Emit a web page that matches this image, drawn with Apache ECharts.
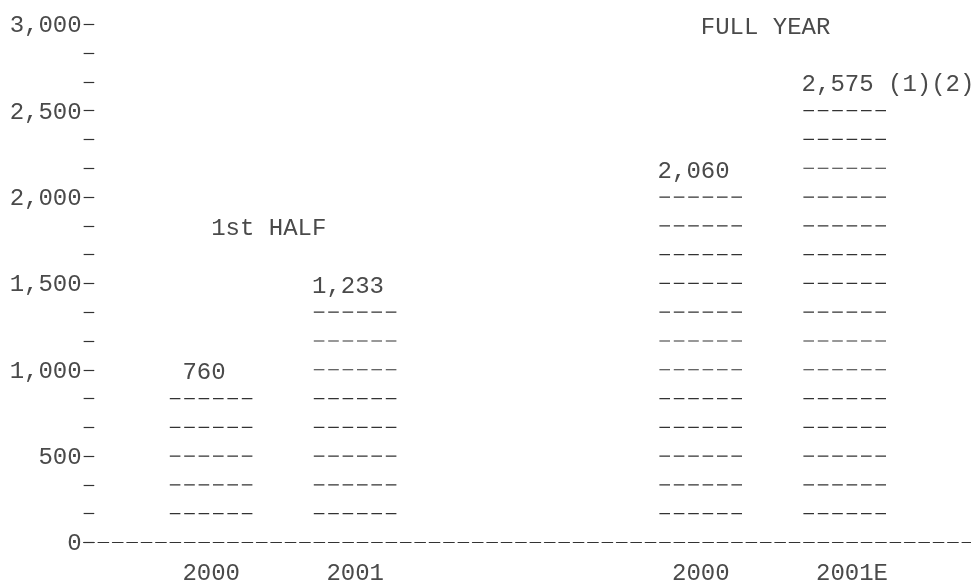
<!DOCTYPE html>
<html>
<head>
<meta charset="utf-8">
<script src="https://cdn.jsdelivr.net/npm/echarts@6/dist/echarts.min.js"></script>
<style>
  html, body { margin: 0; padding: 0; background: #fff; }
  #chart { width: 971px; height: 581px; }
</style>
</head>
<body>
<div id="chart"></div>
<script>
// first half
const halfYears = ['2000', '2001']
const halfValues = [760, 1233]
const halfRows = [5, 8]          // dash rows drawn per bar
const halfNotes = ['', '']

// full year
const fullYears = ['2000', '2001E']
const fullValues = [2060, 2575]
const fullRows = [12, 15]
const fullNotes = ['', ' (1)(2)']

// y axis
const yMin = 0
const yMax = 3000
const yStep = 500
const yMinorSplit = 3

// text grid (monospace cells)
const FONT = 'Liberation Mono'
const FS = 24
const CH = 14.4
const LH = 24
const DASH = 10.6
const INK = '#4a4a4a'
const LINE = '#333'
const NUDGE = 3                  // glyphs sit a bit low in the reference
const ROW = yStep / yMinorSplit

const textStyle = {
  fontFamily: FONT,
  fontSize: FS,
  color: INK,
  fontWeight: 'normal'
}

const gridTop = 24.3
const gridBottom = 581 - 542.5
const rowPx = (581 - gridTop - gridBottom) / 18

const dashBars = (rows, values, notes) => (params, api) => {
  const i = params.dataIndex
  const center = api.coord([i, 0])
  const left = center[0] - 3 * CH
  const children = []
  for (let k = 1; k <= rows[i]; k++) {
    const y = api.coord([i, k * ROW])[1]
    children.push({
      type: 'line',
      shape: { x1: left + 1.8, y1: y, x2: left + 1.8 + 5 * CH + DASH, y2: y },
      style: { stroke: LINE, lineWidth: 1.2, lineDash: [DASH, CH - DASH] }
    })
  }
  const label = values[i].toLocaleString('en-US')
  const ly = api.coord([i, (rows[i] + 1) * ROW])[1]
  children.push({
    type: 'text',
    x: left + Math.floor((6 - label.length) / 2) * CH,
    y: ly + NUDGE,
    style: {
      text: label + notes[i],
      font: FS + 'px "' + FONT + '"',
      fill: INK,
      textAlign: 'left',
      textVerticalAlign: 'middle'
    }
  })
  return { type: 'group', children }
}

const chart = echarts.init(document.getElementById('chart'))

const panelAxis = (cats) => ({
  type: 'category',
  data: cats.map(c => c === '2001E'
    ? { value: c, textStyle: { padding: [0, 0, 0, CH] } }
    : c),
  axisLine: { show: false },
  axisTick: { show: false },
  axisLabel: Object.assign({ margin: 19, lineHeight: LH }, textStyle)
})

const hiddenY = (grid) => ({
  type: 'value', gridIndex: grid, min: yMin, max: yMax, show: false
})

const panelGrid = (left, width) => ({
  left: left, width: width, top: gridTop, bottom: gridBottom,
  outerBoundsMode: 'none'
})

const option = {
  animation: false,
  backgroundColor: '#fff',
  title: [
    {
      text: '1st HALF',
      left: 9.6 + 14 * CH,
      top: gridTop + 7 * rowPx - LH / 2 + NUDGE,
      padding: 0,
      textStyle: Object.assign({ lineHeight: LH }, textStyle)
    },
    {
      text: 'FULL YEAR',
      left: 9.6 + 48 * CH,
      top: gridTop - LH / 2 + NUDGE,
      padding: 0,
      textStyle: Object.assign({ lineHeight: LH }, textStyle)
    }
  ],
  grid: [
    { left: 83.65, right: 0, top: gridTop, bottom: gridBottom, outerBoundsMode: 'none' },
    panelGrid(139.2, 288),
    panelGrid(628.8, 288)
  ],
  xAxis: [
    {
      type: 'value', gridIndex: 0, min: 0, max: 1,
      axisLine: {
        show: true,
        lineStyle: { color: LINE, width: 1.2, type: [DASH, CH - DASH] }
      },
      axisTick: { show: false },
      axisLabel: { show: false },
      splitLine: { show: false }
    },
    Object.assign({ gridIndex: 1 }, panelAxis(halfYears)),
    Object.assign({ gridIndex: 2 }, panelAxis(fullYears))
  ],
  yAxis: [
    {
      type: 'value', gridIndex: 0,
      min: yMin, max: yMax, interval: yStep,
      axisLine: { show: false },
      axisTick: {
        show: true, inside: true, length: DASH,
        lineStyle: { color: LINE, width: 1.2 }
      },
      minorTick: {
        show: true, splitNumber: yMinorSplit, length: DASH,
        lineStyle: { color: LINE, width: 1.2 }
      },
      axisLabel: Object.assign({
        margin: 2,
        verticalAlign: 'top',
        lineHeight: NUDGE,
        formatter: v => v.toLocaleString('en-US')
      }, textStyle),
      splitLine: { show: false }
    },
    hiddenY(1),
    hiddenY(2)
  ],
  series: [
    {
      type: 'custom',
      xAxisIndex: 1,
      yAxisIndex: 1,
      data: halfValues.map((v, i) => [i, v]),
      encode: { x: 0, y: 1 },
      renderItem: dashBars(halfRows, halfValues, halfNotes)
    },
    {
      type: 'custom',
      xAxisIndex: 2,
      yAxisIndex: 2,
      data: fullValues.map((v, i) => [i, v]),
      encode: { x: 0, y: 1 },
      renderItem: dashBars(fullRows, fullValues, fullNotes)
    }
  ]
}

chart.setOption(option)
</script>
</body>
</html>
